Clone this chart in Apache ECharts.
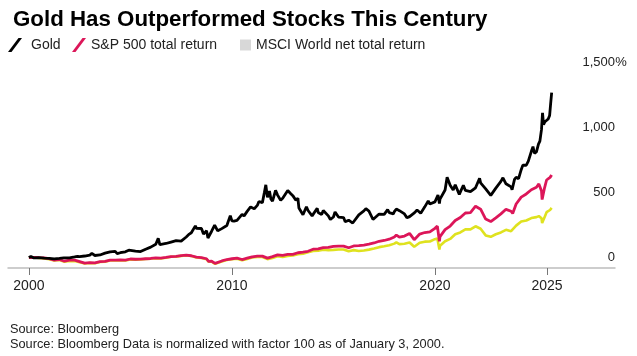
<!DOCTYPE html>
<html>
<head>
<meta charset="utf-8">
<script src="https://cdn.jsdelivr.net/npm/echarts@6/dist/echarts.min.js"></script>
<style>html,body{margin:0;padding:0;background:#fff}#c{width:637px;height:356px}</style>
</head>
<body>
<div id="c"></div>
<script>
// ---- data (decimal years, % return since Jan 3, 2000) ----
const seriesNames = ['Gold', 'S&P 500 total return', 'MSCI World net total return'];
const yTickValues = [0, 500, 1000, 1500];
const xTickValues = [2000, 2010, 2020, 2025.52];
const xTickLabels = ['2000', '2010', '2020', '2025'];

const goldDates = [2000.0,2000.1,2000.25,2000.5,2000.75,2001.0,2001.25,2001.5,2001.72,2001.75,2002.0,2002.25,2002.4,2002.5,2002.75,2003.0,2003.1,2003.25,2003.5,2003.75,2004.0,2004.25,2004.35,2004.5,2004.75,2004.92,2005.0,2005.25,2005.5,2005.75,2006.0,2006.25,2006.37,2006.45,2006.5,2006.75,2007.0,2007.25,2007.5,2007.75,2007.9,2008.0,2008.2,2008.25,2008.5,2008.6,2008.75,2008.82,2009.0,2009.15,2009.3,2009.5,2009.75,2009.92,2010.0,2010.1,2010.25,2010.5,2010.6,2010.75,2010.92,2011.0,2011.1,2011.25,2011.33,2011.5,2011.6,2011.67,2011.75,2011.85,2011.92,2012.0,2012.15,2012.25,2012.4,2012.5,2012.75,2012.9,2013.0,2013.15,2013.25,2013.3,2013.5,2013.55,2013.67,2013.75,2013.95,2014.0,2014.2,2014.25,2014.42,2014.5,2014.75,2014.85,2015.0,2015.08,2015.25,2015.5,2015.58,2015.75,2015.95,2016.0,2016.25,2016.5,2016.6,2016.75,2016.95,2017.0,2017.25,2017.5,2017.67,2017.75,2017.95,2018.0,2018.1,2018.25,2018.5,2018.62,2018.75,2019.0,2019.12,2019.3,2019.5,2019.67,2019.75,2020.0,2020.15,2020.22,2020.25,2020.5,2020.6,2020.75,2020.9,2021.0,2021.2,2021.4,2021.5,2021.75,2022.0,2022.2,2022.25,2022.5,2022.75,2022.83,2023.0,2023.25,2023.35,2023.5,2023.75,2023.8,2023.92,2024.0,2024.12,2024.25,2024.33,2024.42,2024.5,2024.6,2024.75,2024.83,2024.9,2025.0,2025.1,2025.17,2025.25,2025.3,2025.35,2025.42,2025.5,2025.58,2025.65,2025.7,2025.75];
const goldValues = [0,9,-3,0,-5,-6,-10,-6,-2,-3,-3,5,10,8,12,19,32,16,20,34,44,48,30,37,44,57,52,49,46,64,80,102,148,100,113,108,119,130,126,158,180,190,243,224,223,180,206,150,202,248,205,222,246,322,281,280,286,332,320,354,388,390,375,400,430,421,500,558,462,510,450,432,515,479,440,455,515,490,475,440,455,380,328,315,390,361,320,317,378,346,330,361,320,292,311,350,311,307,275,287,265,268,328,358,375,357,292,300,334,331,368,344,335,352,372,360,335,305,314,345,365,340,389,435,411,427,480,415,448,518,616,555,518,559,485,555,515,505,535,608,573,527,477,466,533,584,612,566,542,520,600,616,605,674,709,700,708,740,815,851,800,811,870,893,983,1110,1020,1042,1046,1063,1090,1180,1265];

const stockDates = [2000.0,2000.25,2000.5,2000.75,2001.0,2001.25,2001.5,2001.75,2002.0,2002.25,2002.5,2002.75,2002.8,2003.0,2003.25,2003.5,2003.75,2004.0,2004.25,2004.5,2004.75,2005.0,2005.25,2005.5,2005.75,2006.0,2006.25,2006.5,2006.75,2007.0,2007.25,2007.5,2007.75,2007.8,2008.0,2008.25,2008.5,2008.75,2008.85,2009.0,2009.17,2009.25,2009.5,2009.75,2010.0,2010.25,2010.5,2010.75,2011.0,2011.25,2011.5,2011.75,2012.0,2012.25,2012.5,2012.75,2013.0,2013.25,2013.5,2013.75,2014.0,2014.25,2014.5,2014.75,2015.0,2015.25,2015.5,2015.75,2016.0,2016.25,2016.5,2016.75,2017.0,2017.25,2017.5,2017.75,2018.0,2018.1,2018.25,2018.5,2018.75,2018.98,2019.0,2019.25,2019.5,2019.75,2020.0,2020.12,2020.22,2020.25,2020.5,2020.75,2021.0,2021.25,2021.5,2021.75,2022.0,2022.25,2022.5,2022.75,2023.0,2023.25,2023.5,2023.75,2023.83,2024.0,2024.25,2024.5,2024.75,2025.0,2025.12,2025.25,2025.28,2025.4,2025.5,2025.67,2025.75];
const spxValues = [0,2,-1,-2,-9,-20,-15,-28,-20,-20,-31,-43,-44,-38,-40,-31,-29,-20,-19,-18,-20,-11,-13,-12,-9,-7,-3,-4,1,8,9,15,18,20,14,3,0,-9,-29,-28,-45,-36,-26,-15,-9,-4,-15,-5,5,11,11,-4,7,21,17,24,24,37,41,48,64,67,76,78,86,88,88,75,89,91,96,103,112,125,131,141,158,173,156,165,185,137,147,180,192,197,224,241,125,161,214,242,284,307,342,345,394,371,295,276,305,335,370,355,338,411,464,488,520,539,565,510,445,535,595,615,634];
const msciValues = [0,0,-3,-6,-12,-23,-19,-32,-26,-27,-36,-46,-47,-42,-43,-34,-31,-23,-22,-21,-22,-14,-16,-15,-11,-9,-5,-6,-1,6,7,13,16,18,12,1,-3,-12,-32,-31,-48,-40,-30,-18,-13,-9,-20,-10,0,4,4,-12,-3,10,5,12,16,26,29,40,51,53,60,57,59,62,62,48,57,50,54,61,69,80,87,95,107,117,103,106,116,83,89,114,122,123,141,146,62,90,125,143,179,193,216,216,240,221,170,159,179,193,213,202,190,245,276,284,303,310,318,302,265,310,348,365,381];

function pairs(xs, ys) { return xs.map((x, i) => [x, ys[i]]); }

const FONT = 'Liberation Sans, Arial, Helvetica, sans-serif';
const slash = 'path://M0,14 L3.5,14 L14,0 L10.5,0 Z';
const GOLD_C = '#000000', SPX_C = '#dc1659', MSCI_C = '#dfe21f';

const chart = echarts.init(document.getElementById('c'), null, {renderer: 'canvas'});
function fmtNum(v) { return v.toLocaleString('en-US'); }

chart.setOption({
  animation: false,
  backgroundColor: '#ffffff',
  title: {
    text: 'Gold Has Outperformed Stocks This Century',
    left: 8, top: 4,
    textStyle: {fontFamily: FONT, fontSize: 22.3, fontWeight: 'bold', color: '#000'}
  },
  legend: [
    {left: 3, top: 33, itemWidth: 14, itemHeight: 14, itemGap: 0,
     data: [{name: seriesNames[0], icon: slash}],
     textStyle: {fontFamily: FONT, fontSize: 14, color: '#222', padding: [0,0,0,4]}},
    {left: 67, top: 33, itemWidth: 14, itemHeight: 14, itemGap: 0,
     data: [{name: seriesNames[1], icon: slash}],
     textStyle: {fontFamily: FONT, fontSize: 14, color: '#222', padding: [0,0,0,0]}},
    {left: 235, top: 33, itemWidth: 11, itemHeight: 11, itemGap: 0,
     data: [{name: seriesNames[2], icon: 'rect', itemStyle: {color: '#d8d8d8'}}],
     textStyle: {fontFamily: FONT, fontSize: 14, color: '#222', padding: [0,0,0,0]}}
  ],
  grid: {left: 8, right: 22, top: 62, bottom: 88, containLabel: false},
  xAxis: {
    type: 'value', min: 1998.97, max: 2028.87,
    axisLine: {show: true, onZero: false, lineStyle: {color: '#bdbdbd', width: 1.5}},
    axisTick: {show: true, customValues: xTickValues, length: 7, lineStyle: {color: '#777', width: 1}},
    axisLabel: {customValues: xTickValues, margin: 11, fontFamily: FONT, fontSize: 14, color: '#222',
      formatter: v => xTickLabels[xTickValues.indexOf(v)] ?? String(Math.floor(v))},
    splitLine: {show: false}
  },
  yAxis: {
    type: 'value', min: -80, max: 1500, position: 'right',
    axisLine: {show: false}, axisTick: {show: false}, splitLine: {show: false},
    axisLabel: {
      customValues: yTickValues, margin: 12, align: 'right',
      formatter: v => v === 1500 ? '{n|' + fmtNum(v) + '}{p|%}' : '{n|' + fmtNum(v) + '}{p| }',
      rich: {
        n: {fontFamily: FONT, fontSize: 13, color: '#222'},
        p: {fontFamily: FONT, fontSize: 13, color: '#222', width: 12, align: 'left'}
      }
    }
  },
  series: [
    {name: seriesNames[2], type: 'line', data: pairs(stockDates, msciValues), showSymbol: false,
     color: MSCI_C, lineStyle: {width: 2.6, color: MSCI_C}, z: 2},
    {name: seriesNames[1], type: 'line', data: pairs(stockDates, spxValues), showSymbol: false,
     color: SPX_C, lineStyle: {width: 2.8, color: SPX_C}, z: 3},
    {name: seriesNames[0], type: 'line', data: pairs(goldDates, goldValues), showSymbol: false,
     color: GOLD_C, lineStyle: {width: 2.8, color: GOLD_C}, z: 4}
  ],
  graphic: [
    {type: 'text', left: 10, top: 323, style: {text: 'Source: Bloomberg', font: '12.75px ' + FONT, fill: '#222'}},
    {type: 'text', left: 10, top: 338, style: {text: 'Source: Bloomberg Data is normalized with factor 100 as of January 3, 2000.', font: '12.75px ' + FONT, fill: '#222'}}
  ]
});
</script>
</body>
</html>
